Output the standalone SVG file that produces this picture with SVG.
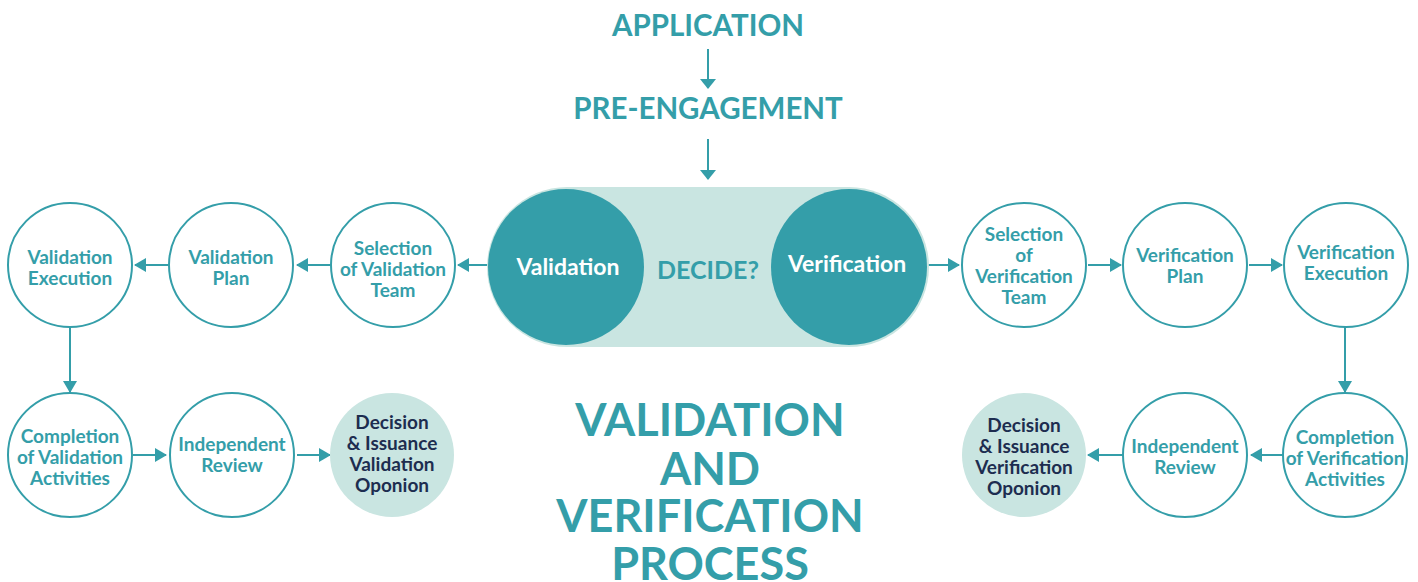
<svg xmlns="http://www.w3.org/2000/svg" width="1418" height="582" viewBox="0 0 1418 582">
<style>
.t{font-family:Lato,"Open Sans","Liberation Sans",sans-serif;font-weight:700;fill:#349ea9;text-anchor:middle}
.w{fill:#ffffff}
.d{fill:#1d2d50}
.n{font-size:19px}
.c{fill:#ffffff;stroke:#349ea9;stroke-width:2}
.f{fill:#c9e5e1}
.k{fill:#349ea9}
.ln{stroke:#349ea9;stroke-width:2;fill:none;marker-end:url(#ah)}
.lv{stroke:#349ea9;stroke-width:2;fill:none;marker-end:url(#ah2)}
</style>
<defs>
<marker id="ah" markerWidth="12" markerHeight="14" refX="11" refY="7" orient="auto" markerUnits="userSpaceOnUse" viewBox="0 0 12 14">
<path d="M0,0 L12,7 L0,14 Z" fill="#349ea9"/>
</marker>
<marker id="ah2" markerWidth="10" markerHeight="16" refX="9" refY="8" orient="auto" markerUnits="userSpaceOnUse" viewBox="0 0 10 16">
<path d="M0,0 L10,8 L0,16 Z" fill="#349ea9"/>
</marker>
</defs>
<g id="connectors">
<line class="lv" x1="708" y1="49" x2="708" y2="88"/>
<line class="lv" x1="708" y1="139" x2="708" y2="179"/>
<line class="ln" x1="489" y1="265" x2="458" y2="265"/>
<line class="ln" x1="330" y1="265" x2="297" y2="265"/>
<line class="ln" x1="168" y1="265" x2="135" y2="265"/>
<line class="ln" x1="70" y1="327" x2="70" y2="392"/>
<line class="ln" x1="133" y1="455" x2="166" y2="455"/>
<line class="ln" x1="297" y1="455" x2="330" y2="455"/>
<line class="ln" x1="927" y1="265" x2="959" y2="265"/>
<line class="ln" x1="1088" y1="265" x2="1121" y2="265"/>
<line class="ln" x1="1249" y1="265" x2="1282" y2="265"/>
<line class="ln" x1="1345" y1="327" x2="1345" y2="392"/>
<line class="ln" x1="1283" y1="455" x2="1251" y2="455"/>
<line class="ln" x1="1123" y1="455" x2="1088" y2="455"/>
</g>
<g id="application"><text class="t" x="708" y="36" font-size="29.5">APPLICATION</text></g>
<g id="pre-engagement"><text class="t" x="708" y="119" font-size="29.5">PRE-ENGAGEMENT</text></g>
<g id="decide">
<rect class="f" x="487" y="187" width="442" height="160" rx="80"/>
<text class="t" x="708" y="279" font-size="25">DECIDE?</text>
</g>
<g id="validation"><circle class="k" cx="566" cy="267" r="78"/><text class="t w" x="568" y="275" font-size="23">Validation</text></g>
<g id="verification"><circle class="k" cx="849" cy="267" r="78"/><text class="t w" x="847" y="272" font-size="23">Verification</text></g>
<g id="sel-val"><circle class="c" cx="393" cy="265" r="62"/><text class="t n" x="393"><tspan x="393" y="255">Selection</tspan><tspan x="393" y="276">of Validation</tspan><tspan x="393" y="297">Team</tspan></text></g>
<g id="val-plan"><circle class="c" cx="231" cy="265" r="62"/><text class="t n" x="231"><tspan x="231" y="264">Validation</tspan><tspan x="231" y="285">Plan</tspan></text></g>
<g id="val-exec"><circle class="c" cx="70" cy="265" r="62"/><text class="t n" x="70"><tspan x="70" y="264">Validation</tspan><tspan x="70" y="285">Execution</tspan></text></g>
<g id="val-comp"><circle class="c" cx="70" cy="455" r="62"/><text class="t n" x="70"><tspan x="70" y="443">Completion</tspan><tspan x="70" y="464">of Validation</tspan><tspan x="70" y="485">Activities</tspan></text></g>
<g id="val-review"><circle class="c" cx="232" cy="455" r="62"/><text class="t n" x="232"><tspan x="232" y="451">Independent</tspan><tspan x="232" y="472">Review</tspan></text></g>
<g id="val-decision"><circle class="f" cx="392" cy="455" r="62"/><text class="t n d" x="392"><tspan x="392" y="429">Decision</tspan><tspan x="392" y="450">&amp; Issuance</tspan><tspan x="392" y="471">Validation</tspan><tspan x="392" y="492">Oponion</tspan></text></g>
<g id="sel-ver"><circle class="c" cx="1024" cy="265" r="62"/><text class="t n" x="1024"><tspan x="1024" y="241">Selection</tspan><tspan x="1024" y="262">of</tspan><tspan x="1024" y="283">Verification</tspan><tspan x="1024" y="304">Team</tspan></text></g>
<g id="ver-plan"><circle class="c" cx="1185" cy="265" r="62"/><text class="t n" x="1185"><tspan x="1185" y="262">Verification</tspan><tspan x="1185" y="283">Plan</tspan></text></g>
<g id="ver-exec"><circle class="c" cx="1346" cy="265" r="62"/><text class="t n" x="1346"><tspan x="1346" y="259">Verification</tspan><tspan x="1346" y="280">Execution</tspan></text></g>
<g id="ver-comp"><circle class="c" cx="1345" cy="455" r="62"/><text class="t n" x="1345"><tspan x="1345" y="444">Completion</tspan><tspan x="1345" y="465">of Verification</tspan><tspan x="1345" y="486">Activities</tspan></text></g>
<g id="ver-review"><circle class="c" cx="1185" cy="455" r="62"/><text class="t n" x="1185"><tspan x="1185" y="453">Independent</tspan><tspan x="1185" y="474">Review</tspan></text></g>
<g id="ver-decision"><circle class="f" cx="1024" cy="455" r="62"/><text class="t n d" x="1024"><tspan x="1024" y="432">Decision</tspan><tspan x="1024" y="453">&amp; Issuance</tspan><tspan x="1024" y="474">Verification</tspan><tspan x="1024" y="495">Oponion</tspan></text></g>
<g id="title"><text class="t" font-size="45"><tspan x="710" y="436">VALIDATION</tspan><tspan x="710" y="485">AND</tspan><tspan x="710" y="532">VERIFICATION</tspan><tspan x="710" y="580">PROCESS</tspan></text></g>
</svg>
